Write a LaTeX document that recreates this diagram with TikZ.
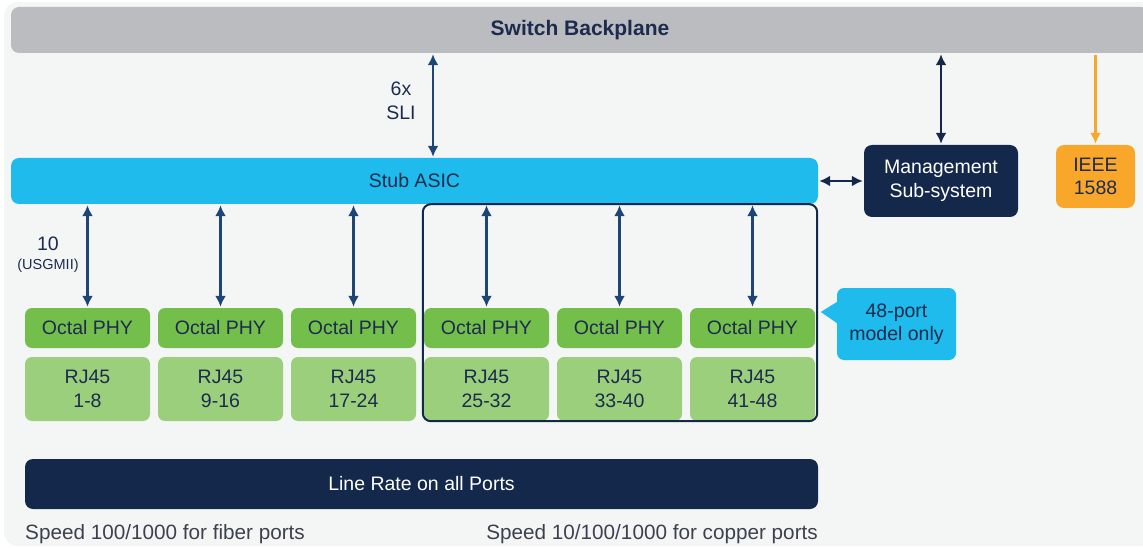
\documentclass[tikz,border=0pt]{standalone}
\usepackage{fontspec}
\setmainfont{Liberation Sans}
\usetikzlibrary{arrows.meta, positioning}
\definecolor{panelbg}{HTML}{F4F6F6}
\definecolor{bpgray}{HTML}{BBBCC0}
\definecolor{asiccyan}{HTML}{1EBBEC}
\definecolor{ciscnavy}{HTML}{14284B}
\definecolor{ieeeorange}{HTML}{F9A72B}
\definecolor{phygreen}{HTML}{74BF4B}
\definecolor{rjgreen}{HTML}{9BCF7C}
\definecolor{arrowblue}{HTML}{1F4476}
\definecolor{txtnavy}{HTML}{1D2B4E}
\definecolor{footgray}{HTML}{3C4150}

\begin{document}
\begin{tikzpicture}[
    x=1pt, y=-1pt,
    every node/.style={
        font=\fontsize{19.5}{23.5}\selectfont,
        text=txtnavy,
        align=center,
        inner sep=0pt
    },
    phybox/.style={fill=phygreen, rounded corners=7pt, minimum width=125pt, minimum height=40pt},
    rjbox/.style={fill=rjgreen, rounded corners=7pt, minimum width=125pt, minimum height=64pt},
    biarrow/.style={draw=arrowblue, line width=2.5pt, shorten <=1pt, shorten >=1pt,
        {Latex[length=11pt,width=11pt]}-{Latex[length=11pt,width=11pt]}}
]
\useasboundingbox (0,0) rectangle (1143,548);

% Panel behind everything
\fill[panelbg, rounded corners=14pt] (4,2) rectangle (1165,546);

% Top: backplane bar
\node[fill=bpgray, rounded corners=8pt, minimum width=1138pt, minimum height=46pt,
      font=\fontsize{21}{25}\selectfont\bfseries] (bp) at (580,30) {Switch Backplane};

% Stub ASIC and the boxes to its right
\node[fill=asiccyan, rounded corners=8pt, minimum width=807pt, minimum height=46pt] (asic) at (414.5,181) {Stub ASIC};
\node[fill=ciscnavy, text=white, rounded corners=8pt, minimum width=154pt, minimum height=72pt] (mgmt) at (941,181)
    {Management\\Sub-system};
\node[fill=ieeeorange, rounded corners=8pt, minimum width=79pt, minimum height=63pt] (ieee) at (1095.5,176.5) {IEEE\\1588};

% SLI link to the backplane
\coordinate (slix) at (433,0);
\draw[biarrow] (bp.south -| slix) -- (asic.north -| slix);
\node (sli) at (401,101) {6x\\SLI};

\draw[biarrow, draw=ciscnavy] (bp.south -| mgmt.north) -- (mgmt.north);
\draw[biarrow, draw=ciscnavy] (asic.east) -- (mgmt.west);
\draw[draw=ieeeorange, line width=2.2pt, shorten >=1pt, -{Latex[length=11pt,width=11pt]}]
    ([yshift=-2pt]bp.south -| ieee.north) -- (ieee.north);

% PHY and RJ45 columns
\foreach \i in {1,...,6} {
    \pgfmathtruncatemacro{\lo}{8*\i-7}
    \pgfmathtruncatemacro{\hi}{8*\i}
    \node[phybox] (phy\i) at ({87.5+133*(\i-1)}, 328) {Octal PHY};
    \node[rjbox] (rj\i) at ({87.5+133*(\i-1)}, 389) {RJ45\\\lo-\hi};
    \draw[biarrow] (asic.south -| phy\i.north) -- (phy\i.north);
}

\node (usgnum) at (48,244) {10};
\node[font=\fontsize{14.5}{16}\selectfont] (usgname) at (48,266) {(USGMII)};

% Frame round the 48-port part, with its note
\draw[ciscnavy, line width=2pt, rounded corners=8pt]
    ([xshift=-1pt]rj4.south west) rectangle ([xshift=2pt]rj6.east |- asic.south);
\node[fill=asiccyan, rounded corners=7pt, minimum width=119pt, minimum height=72pt] (note) at (896.5,324)
    {48-port\\model only};
\fill[asiccyan] ([yshift=22pt]note.west) -- ([xshift=-16pt,yshift=12pt]note.west) -- ([yshift=1pt]note.west) -- cycle;

% Bottom bar and footnotes
\node[fill=ciscnavy, text=white, rounded corners=8pt, minimum width=793pt, minimum height=50pt] (linerate) at (421.5,484)
    {Line Rate on all Ports};
\node[anchor=west, text=footgray, font=\fontsize{20.7}{24}\selectfont] (fiber) at (25,534) {Speed 100/1000 for fiber ports};
\node[anchor=east, text=footgray, font=\fontsize{20.7}{24}\selectfont] (copper) at (818,534) {Speed 10/100/1000 for copper ports};

\end{tikzpicture}
\end{document}
